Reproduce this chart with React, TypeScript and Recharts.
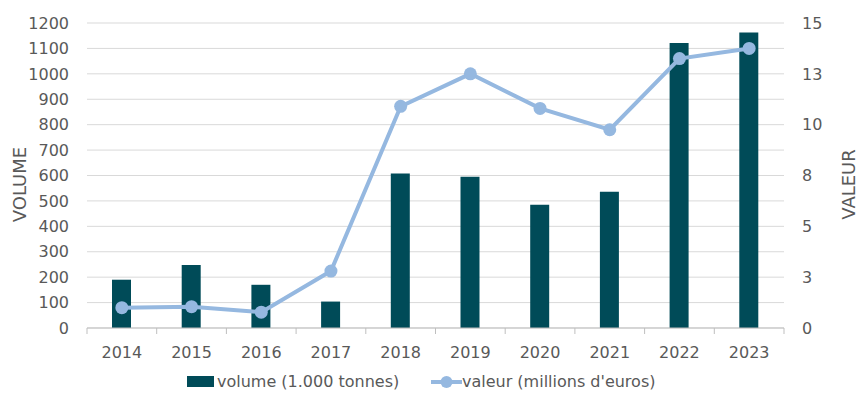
import {
    ComposedChart,
    Bar,
    Line,
    XAxis,
    YAxis,
    CartesianGrid,
    Legend,
} from "recharts";

const years = ["2014", "2015", "2016", "2017", "2018", "2019", "2020", "2021", "2022", "2023"];
const volume = [190, 248, 170, 104, 608, 595, 485, 536, 1121, 1163];
const valeur = [1.0, 1.05, 0.78, 2.8, 10.9, 12.5, 10.8, 9.75, 13.25, 13.75];
const volumeTicks = [0, 100, 200, 300, 400, 500, 600, 700, 800, 900, 1000, 1100, 1200];
const valeurTicks = [0, 2.5, 5, 7.5, 10, 12.5, 15];

const data = years.map((y, i) => ({ year: y, volume: volume[i], valeur: valeur[i] }));

const TEXT = "#595959";
const BAR = "#004b58";
const LINE = "#95b8e0";
const FONT = "'DejaVu Sans', sans-serif";
const FS = 16;

// ticks between categories, like the original
const XTick = (props: any) => {
    const { x, y, payload, index, visibleTicksCount } = props;
    const half = payload && payload.offset ? payload.offset : 34.85;
    const axisY = y - 10;
    return (
        <g>
            <line x1={x - half} x2={x - half} y1={axisY} y2={axisY + 6} stroke="#bfbfbf" />
            {index === visibleTicksCount - 1 && (
                <line x1={x + half} x2={x + half} y1={axisY} y2={axisY + 6} stroke="#bfbfbf" />
            )}
            <text x={x} y={axisY + 30} textAnchor="middle" fill={TEXT} fontSize={FS} fontFamily={FONT}>
                {payload.value}
            </text>
        </g>
    );
};

const SideLabel = ({ viewBox, value, x }: any) => {
    const cy = viewBox.y + viewBox.height / 2 + 9;
    return (
        <text
            x={x}
            y={cy}
            transform={`rotate(-90 ${x} ${cy})`}
            textAnchor="middle"
            dominantBaseline="middle"
            fill={TEXT}
            fontSize={18}
            fontFamily={FONT}
        >
            {value}
        </text>
    );
};

const LegendBox = () => (
    <div style={{ position: "relative", height: 31, fontFamily: FONT, fontSize: FS, color: TEXT }}>
        <div style={{ position: "absolute", left: 187, top: 4, display: "flex", alignItems: "center" }}>
            <span style={{ width: 27, height: 11, background: BAR, display: "inline-block", marginRight: 3 }} />
            <span>volume (1.000 tonnes)</span>
        </div>
        <div style={{ position: "absolute", left: 431, top: 4, display: "flex", alignItems: "center" }}>
            <svg width={31} height={14}>
                <line x1={0} x2={31} y1={7} y2={7} stroke={LINE} strokeWidth={4} />
                <circle cx={15.5} cy={7} r={6} fill={LINE} />
            </svg>
            <span>valeur (millions d'euros)</span>
        </div>
    </div>
);

export default function App() {
    return (
        <div style={{ position: "absolute", left: 0, top: 0, background: "#fff" }}>
            <ComposedChart
                width={860}
                height={399}
                data={data}
                margin={{ top: 23, right: 0, bottom: 0, left: 0 }}
                barCategoryGap={0}
            >
                <CartesianGrid yAxisId="left" vertical={false} stroke="#d9d9d9" />
                <XAxis
                    dataKey="year"
                    height={40}
                    axisLine={{ stroke: "#bfbfbf" }}
                    tickLine={false}
                    tickSize={0}
                    tickMargin={10}
                    tick={<XTick />}
                    interval={0}
                />
                <YAxis
                    yAxisId="left"
                    width={87}
                    domain={[0, 1200]}
                    ticks={volumeTicks}
                    interval={0}
                    axisLine={false}
                    tickLine={false}
                    tickSize={0}
                    tickMargin={18}
                    tick={{ fill: TEXT, fontSize: FS, fontFamily: FONT }}
                    label={{ value: "VOLUME", position: "insideLeft", content: (p: any) => <SideLabel {...p} x={21} /> }}
                />
                <YAxis
                    yAxisId="right"
                    orientation="right"
                    width={76}
                    domain={[0, 15]}
                    ticks={valeurTicks}
                    interval={0}
                    tickFormatter={(v: number) => String(Math.round(v))}
                    axisLine={false}
                    tickLine={false}
                    tickSize={0}
                    tickMargin={18}
                    tick={{ fill: TEXT, fontSize: FS, fontFamily: FONT, textAnchor: "start" }}
                    label={{ value: "VALEUR", position: "insideRight", content: (p: any) => <SideLabel {...p} x={850} /> }}
                />
                <Legend verticalAlign="bottom" height={31} wrapperStyle={{ left: 0, width: 860 }} content={<LegendBox />} />
                <Bar yAxisId="left" dataKey="volume" fill={BAR} barSize={19} isAnimationActive={false} />
                <Line
                    yAxisId="right"
                    dataKey="valeur"
                    stroke={LINE}
                    strokeWidth={4}
                    dot={{ r: 6.5, fill: LINE, stroke: LINE, strokeWidth: 0 }}
                    activeDot={false}
                    isAnimationActive={false}
                />
            </ComposedChart>
        </div>
    );
}
